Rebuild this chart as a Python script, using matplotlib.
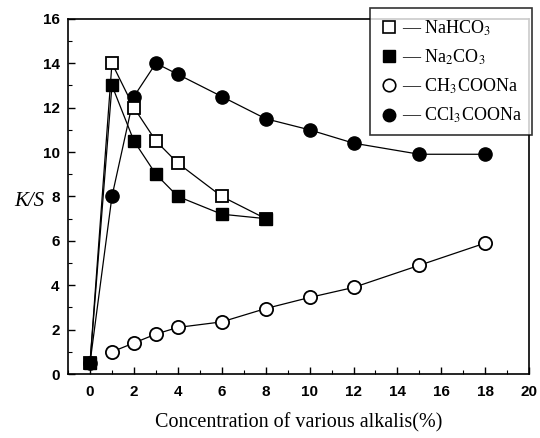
import matplotlib
matplotlib.use("Agg")
import matplotlib.pyplot as plt
from matplotlib.ticker import MultipleLocator
from matplotlib.lines import Line2D

plt.rcParams['mathtext.fontset'] = 'stix'

x_nahco3 = [0, 1, 2, 3, 4, 6, 8]
y_nahco3 = [0.5, 14, 12, 10.5, 9.5, 8, 7]
x_na2co3 = [0, 1, 2, 3, 4, 6, 8]
y_na2co3 = [0.5, 13, 10.5, 9, 8, 7.2, 7]
x_ch3 = [1, 2, 3, 4, 6, 8, 10, 12, 15, 18]
y_ch3 = [1.0, 1.4, 1.8, 2.1, 2.35, 2.95, 3.45, 3.9, 4.9, 5.9]
x_ccl3 = [0, 1, 2, 3, 4, 6, 8, 10, 12, 15, 18]
y_ccl3 = [0.5, 8, 12.5, 14, 13.5, 12.5, 11.5, 11, 10.4, 9.9, 9.9]
labels = ['NaHCO$_3$', 'Na$_2$CO$_3$', 'CH$_3$COONa', 'CCl$_3$COONa']
xticks = [0, 2, 4, 6, 8, 10, 12, 14, 16, 18, 20]
yticks = [0, 2, 4, 6, 8, 10, 12, 14, 16]

fig = plt.figure(figsize=(5.4, 4.38), dpi=100)
ax = fig.add_axes([0.126, 0.146, 0.854, 0.811])

lw = 0.9
ax.plot(x_ccl3, y_ccl3, '-o', color='black', mfc='black', mec='black', ms=9.5, lw=lw)
ax.plot(x_ch3, y_ch3, '-o', color='black', mfc='white', mec='black', mew=1.3, ms=9.5, lw=lw)
ax.plot(x_nahco3, y_nahco3, '-s', color='black', mfc='white', mec='black', mew=1.3, ms=8.5, lw=lw)
ax.plot(x_na2co3, y_na2co3, '-s', color='black', mfc='black', mec='black', ms=8.5, lw=lw)

ax.set_xlim(-1, 20)
ax.set_ylim(0, 16)
ax.set_xticks(xticks)
ax.set_yticks(yticks)
ax.xaxis.set_minor_locator(MultipleLocator(1))
ax.yaxis.set_minor_locator(MultipleLocator(1))
ax.tick_params(which='both', direction='in')
ax.tick_params(which='major', length=5, width=1)
ax.tick_params(axis='x', which='major', pad=8)
ax.tick_params(axis='y', which='major', pad=6)
ax.tick_params(which='minor', length=3, width=0.8)
for lab in ax.get_xticklabels() + ax.get_yticklabels():
    lab.set_fontfamily('Liberation Sans')
    lab.set_fontweight('bold')
    lab.set_fontsize(11)
for s in ax.spines.values():
    s.set_linewidth(1.2)

ax.set_xlabel('Concentration of various alkalis(%)', fontfamily='Liberation Serif', fontsize=14.5, labelpad=10)
ax.set_ylabel('K/S', fontfamily='Liberation Serif', fontstyle='italic', fontsize=15, rotation=0,
              va='center', ha='center')
ax.yaxis.set_label_coords(-0.085, 0.485)

handles = [
    Line2D([], [], ls='none', marker='s', ms=8, mfc='white', mec='black', mew=1.2),
    Line2D([], [], ls='none', marker='s', ms=8, mfc='black', mec='black'),
    Line2D([], [], ls='none', marker='o', ms=9, mfc='white', mec='black', mew=1.2),
    Line2D([], [], ls='none', marker='o', ms=9, mfc='black', mec='black'),
]
leg_labels = ['\u2014 ' + l for l in labels]
leg = ax.legend(handles=handles, labels=leg_labels, loc='upper right', bbox_to_anchor=(1.006, 1.03),
                prop={'family': 'Liberation Serif', 'size': 13}, frameon=True, fancybox=False,
                edgecolor='black', handlelength=1.0, handletextpad=0.25, borderpad=0.55,
                labelspacing=0.55, borderaxespad=0)
leg.get_frame().set_linewidth(1.2)
leg.set_clip_on(False)

fig.savefig('out.png', dpi=100)
